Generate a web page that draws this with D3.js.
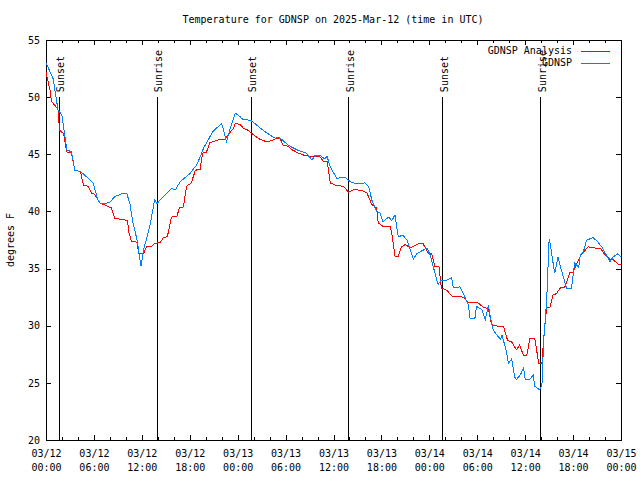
<!DOCTYPE html>
<html>
<head>
<meta charset="utf-8">
<script src="https://cdn.jsdelivr.net/npm/d3@7"></script>
<style>
body { margin: 0; background: #fff; }
text { font-family: "DejaVu Sans Mono", monospace; font-size: 10px; fill: #000; }
</style>
</head>
<body>
<div id="chart"></div>
<script>
// hours after 2025-03-12 00:00 UTC
var obsHours = [0.0,0.9,1.5,2.0,2.6,3.2,3.6,4.3,5.3,5.9,6.5,6.8,7.4,8.0,8.6,9.7,10.1,10.5,10.9,11.4,11.9,12.2,13.0,13.6,13.9,15.1,15.7,16.2,16.8,18.0,18.9,19.5,19.7,20.9,22.0,22.2,22.6,23.0,23.7,24.3,24.5,25.3,25.8,26.8,28.0,28.7,29.1,29.7,30.3,31.4,32.6,33.3,33.7,34.3,34.9,35.2,35.6,36.4,37.4,38.1,38.9,39.9,40.4,40.8,41.4,41.8,42.2,42.9,43.3,43.7,44.1,44.7,45.2,46.0,46.4,47.2,47.7,48.1,48.9,49.1,49.5,50.2,50.8,51.0,51.8,52.0,52.9,53.1,53.7,53.9,54.6,55.0,55.4,55.6,56.0,56.9,57.1,57.7,57.9,58.3,58.7,58.9,59.4,59.8,60.0,60.6,61.0,61.2,61.8,62.1,62.3,62.7,63.0,63.2,63.4,63.7,64.1,64.4,64.8,65.2,65.8,66.2,66.7,66.9,67.3,67.7,68.5,69.0,69.6,70.6,71.0,71.6,72.0];
var obsTemps = [53.0,51.6,48.9,48.4,45.4,45.2,43.6,43.5,42.9,42.5,41.0,40.7,40.7,40.8,41.3,41.6,41.6,40.7,39.0,37.5,35.2,36.6,38.7,41.0,40.7,41.6,42.0,41.9,42.6,43.3,44.1,45.1,45.5,47.0,47.7,47.2,46.1,47.1,48.6,48.3,48.1,48.0,47.9,47.3,46.7,46.4,46.5,46.2,45.8,45.4,45.1,44.5,44.9,44.9,44.6,44.8,43.9,42.9,43.0,42.6,42.4,42.5,42.2,41.0,40.0,39.9,39.1,39.5,39.2,39.7,37.8,37.9,37.5,35.8,36.3,36.6,36.8,36.2,34.1,33.6,34.0,34.0,34.2,33.3,33.4,33.2,31.8,30.6,30.6,31.7,31.4,30.5,31.8,30.9,29.6,28.8,29.2,27.6,26.7,27.1,25.5,25.3,25.7,26.3,25.3,25.3,25.7,24.7,24.4,24.8,28.5,32.3,37.6,36.9,35.9,34.6,36.0,35.2,34.2,33.3,33.3,35.5,35.1,36.2,36.5,37.5,37.7,37.4,36.9,35.6,36.0,36.3,36.0];

var anaHours = [0.0,0.5,0.7,1.1,1.5,1.7,2.2,2.6,3.2,3.6,4.3,4.7,5.3,5.7,6.1,6.8,7.6,8.2,8.6,9.5,10.2,10.4,10.7,11.4,11.6,12.2,12.6,13.2,13.6,14.3,14.7,15.2,15.7,16.4,16.7,17.2,17.6,18.2,18.7,19.3,19.6,20.1,20.5,21.8,22.4,22.8,23.5,23.7,24.3,24.7,25.3,25.8,26.8,27.6,28.3,28.9,29.3,29.7,30.3,30.8,31.6,32.4,33.3,34.3,34.7,35.2,35.6,36.2,37.2,37.9,38.5,38.9,39.7,40.2,40.8,41.4,41.6,42.2,43.1,43.3,43.7,44.1,44.5,45.0,45.6,46.7,47.2,47.9,48.3,48.7,49.2,49.5,50.2,50.8,52.3,52.9,54.1,54.8,55.4,55.8,56.2,57.3,57.8,58.3,58.9,59.3,59.8,60.2,60.6,61.2,61.7,62.1,62.4,62.7,63.1,63.5,63.9,64.4,65.0,65.6,66.0,66.5,67.1,67.5,67.9,68.7,69.4,70.0,70.6,71.0,71.6,72.0];
var anaTemps = [52.2,50.6,49.6,49.3,48.9,47.1,46.8,45.2,45.1,43.6,43.5,42.3,42.2,41.6,41.5,40.7,40.5,40.3,39.4,39.3,39.2,38.1,37.4,37.3,36.3,36.3,36.9,36.9,37.2,37.3,37.7,37.8,39.5,39.6,40.3,40.4,42.2,42.5,43.6,43.7,45.1,45.2,46.0,46.3,46.3,46.7,47.3,47.7,47.6,47.3,47.1,46.8,46.3,46.1,46.2,46.4,46.4,45.8,45.7,45.4,45.1,44.9,44.8,44.8,44.4,44.4,42.5,42.3,42.2,41.7,41.9,41.9,41.8,41.6,40.6,40.3,39.0,38.7,38.7,38.1,36.1,36.1,36.9,37.1,36.8,37.2,37.2,36.3,36.3,35.2,35.2,33.3,33.1,32.6,32.5,32.0,32.0,31.6,31.5,30.1,30.0,29.9,28.7,28.6,27.9,28.3,27.4,27.4,28.9,28.9,26.7,26.7,29.6,31.6,31.6,32.7,32.8,33.3,33.4,34.7,34.7,35.5,36.3,36.6,36.9,36.8,36.8,36.2,35.8,35.8,35.4,35.3];

var sunHours = [1.63, 13.9, 25.67, 37.92, 49.7, 61.98];
var sunLabels = ["Sunset", "Sunrise", "Sunset", "Sunrise", "Sunset", "Sunrise"];
var yTicks = [20, 25, 30, 35, 40, 45, 50, 55];

var base = Date.UTC(2025, 2, 12);
function toDate(h) { return new Date(base + h * 3600000); }

var svg = d3.select("#chart").append("svg")
    .attr("width", 640)
    .attr("height", 480);

var x = d3.scaleUtc()
    .domain([toDate(0), toDate(72)])
    .range([46, 621]);

var y = d3.scaleLinear()
    .domain([20, 55])
    .range([440, 40]);

var axisStyle = function(g) {
    g.select(".domain").remove();
    g.selectAll("line").attr("stroke", "#000").attr("shape-rendering", "crispEdges");
};

// minor ticks, every 2 hours
svg.append("g").attr("transform", "translate(0,440)")
    .call(d3.axisBottom(x).ticks(d3.utcHour.every(2)).tickSize(-3).tickFormat(""))
    .call(axisStyle);
svg.append("g").attr("transform", "translate(0,40)")
    .call(d3.axisTop(x).ticks(d3.utcHour.every(2)).tickSize(-3).tickFormat(""))
    .call(axisStyle);

// major ticks, every 6 hours
var xb = svg.append("g").attr("transform", "translate(0,440)")
    .call(d3.axisBottom(x).ticks(d3.utcHour.every(6)).tickSize(-5).tickFormat(""))
    .call(axisStyle);
svg.append("g").attr("transform", "translate(0,40)")
    .call(d3.axisTop(x).ticks(d3.utcHour.every(6)).tickSize(-5).tickFormat(""))
    .call(axisStyle);

// two line labels
var fmtDay = d3.utcFormat("%m/%d"), fmtTime = d3.utcFormat("%H:%M");
xb.selectAll(".tick").each(function(d) {
    var t = d3.select(this).append("text")
        .attr("text-anchor", "middle")
        .attr("fill", "#000");
    t.append("tspan").attr("x", 0).attr("y", 17).text(fmtDay(d));
    t.append("tspan").attr("x", 0).attr("y", 31).text(fmtTime(d));
});

svg.append("g").attr("transform", "translate(46,0)")
    .call(d3.axisLeft(y).tickValues(yTicks).tickSize(-5).tickPadding(6))
    .call(axisStyle)
    .selectAll("text")
    .attr("font-family", "DejaVu Sans Mono")
    .attr("font-size", 10)
    .attr("fill", "#000");

svg.append("g").attr("transform", "translate(621,0)")
    .call(d3.axisRight(y).tickValues(yTicks).tickSize(-5).tickFormat(""))
    .call(axisStyle);

// border
svg.append("rect")
    .attr("x", 46)
    .attr("y", 40)
    .attr("width", 575)
    .attr("height", 400)
    .attr("fill", "none")
    .attr("stroke", "#000")
    .attr("shape-rendering", "crispEdges");

// sunrise / sunset markers
svg.selectAll(".sun").data(sunHours).enter().append("line")
    .attr("x1", function(d) { return x(toDate(d)); })
    .attr("x2", function(d) { return x(toDate(d)); })
    .attr("y1", y(50))
    .attr("y2", y(20))
    .attr("stroke", "#000")
    .attr("shape-rendering", "crispEdges");

svg.selectAll(".sunlabel").data(sunHours).enter().append("text")
    .attr("transform", function(d) { return "translate(" + (x(toDate(d)) + 5) + "," + (y(50) - 5) + ") rotate(-90)"; })
    .text(function(d, i) { return sunLabels[i]; });

var line = d3.line()
    .x(function(d) { return x(toDate(d[0])); })
    .y(function(d) { return y(d[1]); });

svg.append("path")
    .datum(d3.zip(anaHours, anaTemps))
    .attr("d", line)
    .attr("fill", "none")
    .attr("stroke", "#ff0000")
    .attr("stroke-width", 1)
    .attr("shape-rendering", "crispEdges");

svg.append("path")
    .datum(d3.zip(obsHours, obsTemps))
    .attr("d", line)
    .attr("fill", "none")
    .attr("stroke", "#0080ff")
    .attr("stroke-width", 1)
    .attr("shape-rendering", "crispEdges");

// legend
svg.append("text").attr("x", 572).attr("y", 54).attr("text-anchor", "end").text("GDNSP Analysis");
svg.append("line").attr("x1", 581).attr("x2", 610).attr("y1", 51).attr("y2", 51)
    .attr("stroke", "#ff0000").attr("shape-rendering", "crispEdges");
svg.append("text").attr("x", 572).attr("y", 66).attr("text-anchor", "end").text("GDNSP");
svg.append("line").attr("x1", 581).attr("x2", 610).attr("y1", 63).attr("y2", 63)
    .attr("stroke", "#0080ff").attr("shape-rendering", "crispEdges");

// title and y label
svg.append("text").attr("x", 333).attr("y", 23).attr("text-anchor", "middle")
    .text("Temperature for GDNSP on 2025-Mar-12 (time in UTC)");

svg.append("text")
    .attr("transform", "translate(14,240) rotate(-90)")
    .attr("text-anchor", "middle")
    .text("degrees F");
</script>
</body>
</html>
